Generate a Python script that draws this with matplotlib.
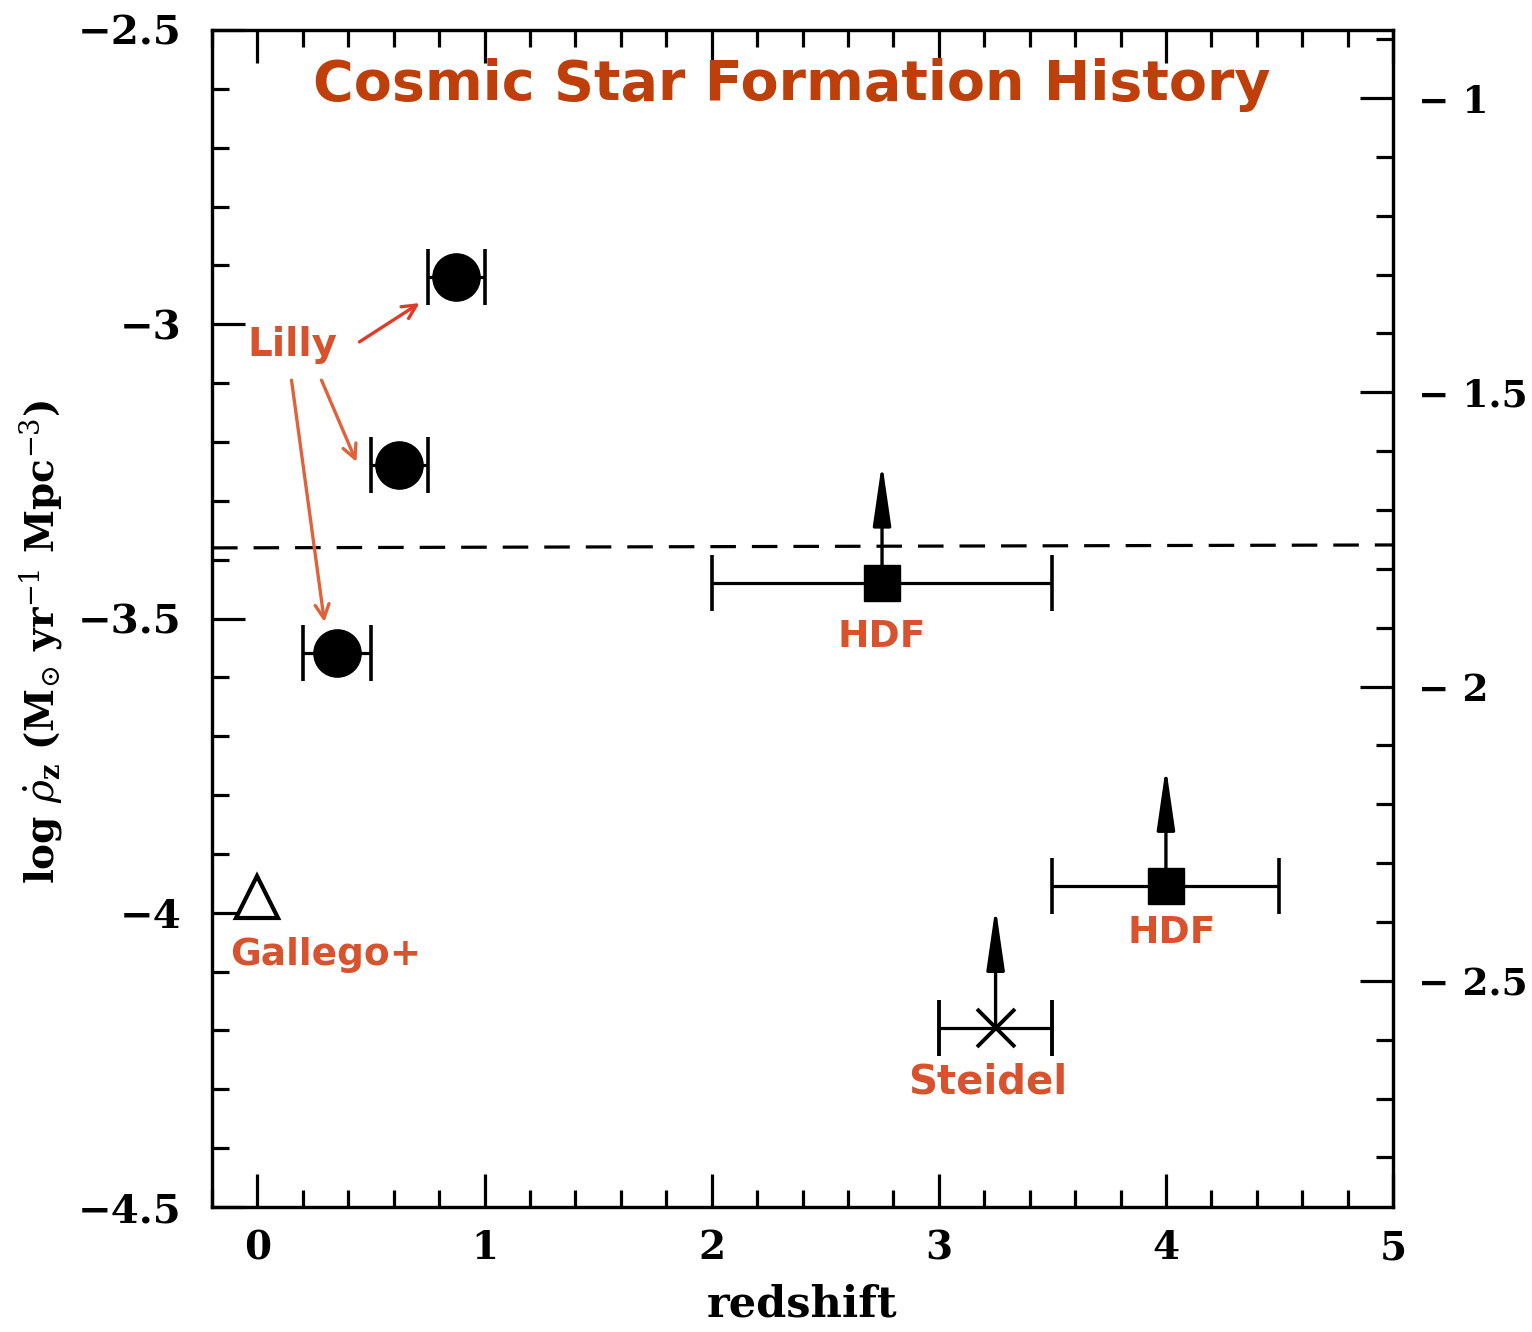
import matplotlib
matplotlib.use("Agg")
import matplotlib.pyplot as plt
from matplotlib.ticker import MultipleLocator, FixedLocator, FuncFormatter
from matplotlib.font_manager import FontProperties

# ---------------- data ----------------
lilly_z = [0.35, 0.625, 0.875]
lilly_y = [-3.559, -3.239, -2.92]
lilly_zlo = [0.2, 0.5, 0.75]
lilly_zhi = [0.5, 0.75, 1.0]

hdf_z = [2.75, 4.0]
hdf_y = [-3.44, -3.955]
hdf_zlo = [2.0, 3.5]
hdf_zhi = [3.5, 4.5]
hdf_tip = [-3.235, -3.752]

steidel_z = [3.25]
steidel_y = [-4.196]
steidel_zlo = [3.0]
steidel_zhi = [3.5]
steidel_tip = [-3.99]

gallego_z = [0.0]
gallego_y = [-3.973]

dashed_x = [-0.2, 5.0]
dashed_y = [-3.38, -3.375]

x_ticks = [0, 1, 2, 3, 4, 5]
y_ticks = [-2.5, -3, -3.5, -4, -4.5]
right_ticks = [-1, -1.5, -2, -2.5]
right_offset = 1.6156

title = "Cosmic Star Formation History"
# --------------------------------------

plt.rcParams["mathtext.fontset"] = "dejavuserif"
serif = {"family": "DejaVu Serif", "weight": "bold"}
lab_col = "#d9522e"
title_col = "#bf3f0b"
black = "black"

fig = plt.figure(figsize=(15.32, 13.32), dpi=100)
ax = fig.add_axes([0.1384, 0.0938, 0.9093 - 0.1384, 0.9775 - 0.0938])
ax.set_xlim(-0.2, 5.0)
ax.set_ylim(-4.5, -2.5)

lw = 2.3
for s in ax.spines.values():
    s.set_linewidth(lw)

def xerr_of(z, lo, hi):
    return [[zi - l for zi, l in zip(z, lo)], [h - zi for zi, h in zip(z, hi)]]

# dashed line
ax.plot(dashed_x, dashed_y, color=black, lw=2.3, dashes=(8, 5))

# Lilly circles
ax.errorbar(lilly_z, lilly_y, xerr=xerr_of(lilly_z, lilly_zlo, lilly_zhi),
            fmt="o", color=black, ms=34, elinewidth=2.3, capsize=20, capthick=2.6, zorder=5)

# HDF squares
ax.errorbar(hdf_z, hdf_y, xerr=xerr_of(hdf_z, hdf_zlo, hdf_zhi),
            fmt="s", color=black, ms=26, elinewidth=2.3, capsize=20, capthick=2.6, zorder=5)

# Steidel cross
ax.errorbar(steidel_z, steidel_y, xerr=xerr_of(steidel_z, steidel_zlo, steidel_zhi),
            fmt="x", color=black, ms=28, mew=2.8, elinewidth=2.3, capsize=20, capthick=2.6, zorder=5)

# Gallego open triangle
ax.plot(gallego_z, gallego_y, marker="^", ms=30, mfc="white", mec=black, mew=3, ls="none", zorder=5)

# lower-limit arrows
for z, y0, y1 in list(zip(hdf_z, hdf_y, hdf_tip)) + list(zip(steidel_z, steidel_y, steidel_tip)):
    ax.annotate("", xy=(z, y1), xytext=(z, y0),
                arrowprops=dict(arrowstyle="-|>,head_length=3.8,head_width=0.55",
                                color=black, lw=2.4, shrinkA=0, shrinkB=0), zorder=4)

# ticks
ax.xaxis.set_major_locator(FixedLocator(x_ticks))
ax.xaxis.set_minor_locator(MultipleLocator(0.2))
ax.yaxis.set_major_locator(FixedLocator(y_ticks))
ax.yaxis.set_minor_locator(MultipleLocator(0.1))
ax.tick_params(which="both", direction="in", top=True, right=False, width=2.3)
ax.tick_params(which="major", length=24)
ax.tick_params(which="minor", length=12)
ax.tick_params(axis="x", pad=16)
ax.tick_params(axis="y", pad=22)
ax.set_xticklabels([str(t) for t in x_ticks], fontdict=serif, fontsize=28)
ax.yaxis.set_major_formatter(FuncFormatter(lambda v, p: ("%g" % v).replace("-", "\u2212")))
for t in ax.get_yticklabels():
    t.set_fontproperties(FontProperties(family="DejaVu Serif", weight="bold", size=29))

# right axis
ax2 = ax.twinx()
ax2.set_ylim(-4.5 + right_offset, -2.5 + right_offset)
ax2.yaxis.set_major_locator(FixedLocator(right_ticks))
ax2.yaxis.set_minor_locator(MultipleLocator(0.1))
ax2.tick_params(which="both", direction="in", width=2.3)
ax2.tick_params(which="major", length=24, pad=18)
ax2.tick_params(which="minor", length=12)
ax2.set_yticklabels([("%g" % v).replace("-", "\u2212 ") for v in right_ticks],
                    fontdict=serif, fontsize=27)
for s in ax2.spines.values():
    s.set_linewidth(lw)

ax.set_xlabel("redshift", fontdict=serif, fontsize=31, labelpad=12)
ax.set_ylabel(r"log $\dot{\rho}_{\mathbf{z}}$ (M$_{\odot}$ yr$^{-1}$ Mpc$^{-3}$)",
              fontdict=serif, fontsize=28)
ax.yaxis.set_label_coords(-0.125, 0.48)

# annotations
ax.text(2.352, -2.593, title, color=title_col, fontsize=40, fontweight="bold",
        family="DejaVu Sans", ha="center", va="center")
ax.text(0.154, -3.035, "Lilly", color=lab_col, fontsize=28, fontweight="bold",
        family="DejaVu Sans", ha="center", va="center")
ax.annotate("", xy=(0.714, -2.964), xytext=(0.449, -3.030),
            arrowprops=dict(arrowstyle="->,head_length=1.0,head_width=0.5", color="#e03a2a", lw=2.4,
                            shrinkA=0, shrinkB=0))
ax.annotate("", xy=(0.436, -3.234), xytext=(0.282, -3.095),
            arrowprops=dict(arrowstyle="->,head_length=1.0,head_width=0.5", color="#e0623a", lw=2.4,
                            shrinkA=0, shrinkB=0))
ax.annotate("", xy=(0.295, -3.506), xytext=(0.150, -3.095),
            arrowprops=dict(arrowstyle="->,head_length=1.0,head_width=0.5", color="#e0623a", lw=2.4,
                            shrinkA=0, shrinkB=0))
ax.text(2.749, -3.531, "HDF", color=lab_col, fontsize=27, fontweight="bold",
        family="DejaVu Sans", ha="center", va="center")
ax.text(4.026, -4.034, "HDF", color=lab_col, fontsize=27, fontweight="bold",
        family="DejaVu Sans", ha="center", va="center")
ax.text(3.216, -4.289, "Steidel", color=lab_col, fontsize=29, fontweight="bold",
        family="DejaVu Sans", ha="center", va="center")
ax.text(0.30, -4.072, "Gallego+", color=lab_col, fontsize=27, fontweight="bold",
        family="DejaVu Sans", ha="center", va="center")

fig.savefig("out.png", dpi=100)
